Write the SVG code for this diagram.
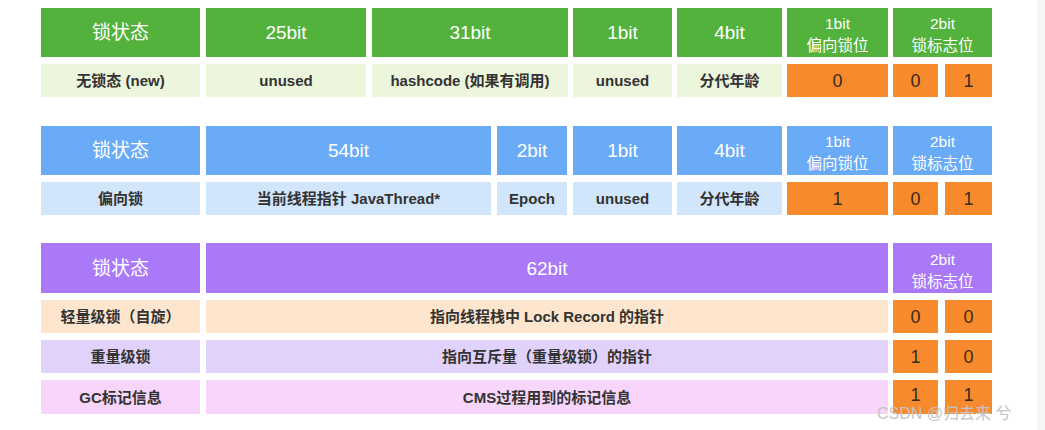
<svg xmlns="http://www.w3.org/2000/svg" width="1045" height="430" viewBox="0 0 1045 430">
<style>
  text{font-family:"Liberation Sans","Noto Sans CJK SC",sans-serif;text-anchor:middle;dominant-baseline:central}
  .hg{fill:#53b23b}.hb{fill:#6aabf7}.hp{fill:#a979f8}
  .rg{fill:#ebf6dc}.rb{fill:#d1e5fb}.r1{fill:#fde6cd}.r2{fill:#e1d2fb}.r3{fill:#f8d5fa}
  .or{fill:#f68a2c}
  .ht{fill:#ffffff;font-size:19px}
  .hs{fill:#ffffff;font-size:15.5px}
  .rt{fill:#333333;font-size:15px;font-weight:bold}
  .nt{fill:#3a2a1a;font-size:18px}
  .wm{fill:#c4c4c4;font-size:16px;text-anchor:start}
</style>
<rect x="0" y="0" width="1045" height="430" fill="#ffffff"/>
<rect x="1037" y="0" width="8" height="430" fill="#f5f5f5"/>

<!-- Table 1 -->
<g id="t1-h-state"><rect class="hg" x="41" y="8" width="159" height="49"/><text class="ht" x="120.5" y="32.5">锁状态</text></g>
<g id="t1-h-25"><rect class="hg" x="206" y="8" width="160" height="49"/><text class="ht" x="286" y="32.5">25bit</text></g>
<g id="t1-h-31"><rect class="hg" x="372" y="8" width="196" height="49"/><text class="ht" x="470" y="32.5">31bit</text></g>
<g id="t1-h-1"><rect class="hg" x="573" y="8" width="99" height="49"/><text class="ht" x="622.5" y="32.5">1bit</text></g>
<g id="t1-h-4"><rect class="hg" x="677" y="8" width="105" height="49"/><text class="ht" x="729.5" y="32.5">4bit</text></g>
<g id="t1-h-biased"><rect class="hg" x="787" y="8" width="101" height="49"/><text class="hs" x="837.5" y="23">1bit</text><text class="hs" x="837.5" y="45">偏向锁位</text></g>
<g id="t1-h-flag"><rect class="hg" x="893" y="8" width="99" height="49"/><text class="hs" x="942.5" y="23">2bit</text><text class="hs" x="942.5" y="45">锁标志位</text></g>

<g id="t1-r-state"><rect class="rg" x="41" y="64" width="159" height="33"/><text class="rt" x="120.5" y="80.5">无锁态 (new)</text></g>
<g id="t1-r-25"><rect class="rg" x="206" y="64" width="160" height="33"/><text class="rt" x="286" y="80.5">unused</text></g>
<g id="t1-r-31"><rect class="rg" x="372" y="64" width="196" height="33"/><text class="rt" x="470" y="80.5">hashcode (如果有调用)</text></g>
<g id="t1-r-1"><rect class="rg" x="573" y="64" width="99" height="33"/><text class="rt" x="622.5" y="80.5">unused</text></g>
<g id="t1-r-4"><rect class="rg" x="677" y="64" width="105" height="33"/><text class="rt" x="729.5" y="80.5">分代年龄</text></g>
<g id="t1-r-biased"><rect class="or" x="787" y="64" width="101" height="33"/><text class="nt" x="837.5" y="80.5">0</text></g>
<g id="t1-r-flag0"><rect class="or" x="893" y="64" width="45" height="33"/><text class="nt" x="915.5" y="80.5">0</text></g>
<g id="t1-r-flag1"><rect class="or" x="945" y="64" width="47" height="33"/><text class="nt" x="968.5" y="80.5">1</text></g>

<!-- Table 2 -->
<g id="t2-h-state"><rect class="hb" x="41" y="126" width="159" height="49"/><text class="ht" x="120.5" y="150.5">锁状态</text></g>
<g id="t2-h-54"><rect class="hb" x="206" y="126" width="285" height="49"/><text class="ht" x="348.5" y="150.5">54bit</text></g>
<g id="t2-h-2"><rect class="hb" x="497" y="126" width="70" height="49"/><text class="ht" x="532" y="150.5">2bit</text></g>
<g id="t2-h-1"><rect class="hb" x="573" y="126" width="99" height="49"/><text class="ht" x="622.5" y="150.5">1bit</text></g>
<g id="t2-h-4"><rect class="hb" x="677" y="126" width="105" height="49"/><text class="ht" x="729.5" y="150.5">4bit</text></g>
<g id="t2-h-biased"><rect class="hb" x="787" y="126" width="101" height="49"/><text class="hs" x="837.5" y="141">1bit</text><text class="hs" x="837.5" y="163">偏向锁位</text></g>
<g id="t2-h-flag"><rect class="hb" x="893" y="126" width="99" height="49"/><text class="hs" x="942.5" y="141">2bit</text><text class="hs" x="942.5" y="163">锁标志位</text></g>

<g id="t2-r-state"><rect class="rb" x="41" y="182" width="159" height="33"/><text class="rt" x="120.5" y="198.5">偏向锁</text></g>
<g id="t2-r-54"><rect class="rb" x="206" y="182" width="285" height="33"/><text class="rt" x="348.5" y="198.5">当前线程指针 JavaThread*</text></g>
<g id="t2-r-2"><rect class="rb" x="497" y="182" width="70" height="33"/><text class="rt" x="532" y="198.5">Epoch</text></g>
<g id="t2-r-1"><rect class="rb" x="573" y="182" width="99" height="33"/><text class="rt" x="622.5" y="198.5">unused</text></g>
<g id="t2-r-4"><rect class="rb" x="677" y="182" width="105" height="33"/><text class="rt" x="729.5" y="198.5">分代年龄</text></g>
<g id="t2-r-biased"><rect class="or" x="787" y="182" width="101" height="33"/><text class="nt" x="837.5" y="198.5">1</text></g>
<g id="t2-r-flag0"><rect class="or" x="893" y="182" width="45" height="33"/><text class="nt" x="915.5" y="198.5">0</text></g>
<g id="t2-r-flag1"><rect class="or" x="945" y="182" width="47" height="33"/><text class="nt" x="968.5" y="198.5">1</text></g>

<!-- Table 3 -->
<g id="t3-h-state"><rect class="hp" x="41" y="243" width="159" height="50"/><text class="ht" x="120.5" y="268">锁状态</text></g>
<g id="t3-h-62"><rect class="hp" x="206" y="243" width="682" height="50"/><text class="ht" x="547" y="268">62bit</text></g>
<g id="t3-h-flag"><rect class="hp" x="893" y="243" width="99" height="50"/><text class="hs" x="942.5" y="259">2bit</text><text class="hs" x="942.5" y="281">锁标志位</text></g>

<g id="t3-r1-state"><rect class="r1" x="41" y="300" width="159" height="33"/><text class="rt" x="120.5" y="316.5">轻量级锁（自旋）</text></g>
<g id="t3-r1-62"><rect class="r1" x="206" y="300" width="682" height="33"/><text class="rt" x="547" y="316.5">指向线程栈中 Lock Record 的指针</text></g>
<g id="t3-r1-f0"><rect class="or" x="893" y="300" width="45" height="33"/><text class="nt" x="915.5" y="316.5">0</text></g>
<g id="t3-r1-f1"><rect class="or" x="945" y="300" width="47" height="33"/><text class="nt" x="968.5" y="316.5">0</text></g>

<g id="t3-r2-state"><rect class="r2" x="41" y="340" width="159" height="33"/><text class="rt" x="120.5" y="356.5">重量级锁</text></g>
<g id="t3-r2-62"><rect class="r2" x="206" y="340" width="682" height="33"/><text class="rt" x="547" y="356.5">指向互斥量（重量级锁）的指针</text></g>
<g id="t3-r2-f0"><rect class="or" x="893" y="340" width="45" height="33"/><text class="nt" x="915.5" y="356.5">1</text></g>
<g id="t3-r2-f1"><rect class="or" x="945" y="340" width="47" height="33"/><text class="nt" x="968.5" y="356.5">0</text></g>

<g id="t3-r3-state"><rect class="r3" x="41" y="380" width="159" height="34"/><text class="rt" x="120.5" y="397">GC标记信息</text></g>
<g id="t3-r3-62"><rect class="r3" x="206" y="380" width="682" height="34"/><text class="rt" x="547" y="397">CMS过程用到的标记信息</text></g>
<g id="t3-r3-f0"><rect class="or" x="893" y="380" width="45" height="34"/><text class="nt" x="915.5" y="395">1</text></g>
<g id="t3-r3-f1"><rect class="or" x="945" y="380" width="47" height="34"/><text class="nt" x="968.5" y="395">1</text></g>

<g id="connectors"></g>

<text class="wm" x="877" y="413">CSDN @归去来 兮</text>
</svg>
